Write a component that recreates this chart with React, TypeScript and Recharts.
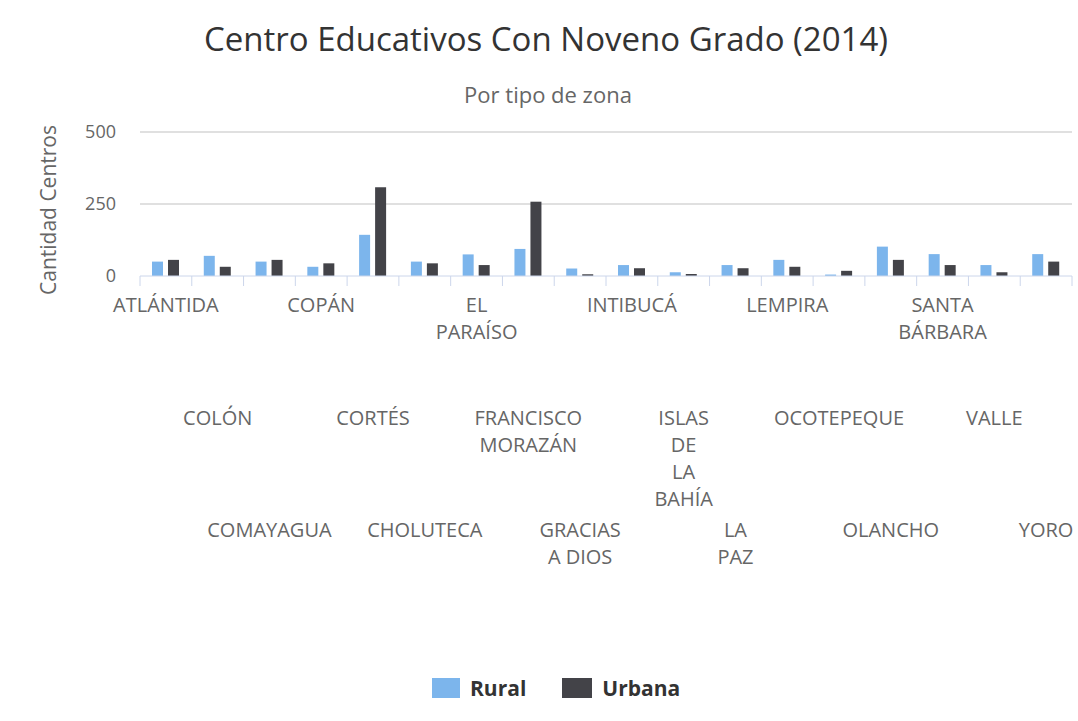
import React from 'react';
import { BarChart, Bar, XAxis, YAxis, CartesianGrid, Legend } from 'recharts';

const departamentos = [
  'ATLÁNTIDA', 'COLÓN', 'COMAYAGUA', 'COPÁN', 'CORTÉS', 'CHOLUTECA',
  'EL PARAÍSO', 'FRANCISCO MORAZÁN', 'GRACIAS A DIOS', 'INTIBUCÁ',
  'ISLAS DE LA BAHÍA', 'LA PAZ', 'LEMPIRA', 'OCOTEPEQUE', 'OLANCHO',
  'SANTA BÁRBARA', 'VALLE', 'YORO',
];
// how each label wraps under the axis
const etiquetas = [
  ['ATLÁNTIDA'], ['COLÓN'], ['COMAYAGUA'], ['COPÁN'], ['CORTÉS'], ['CHOLUTECA'],
  ['EL', 'PARAÍSO'], ['FRANCISCO', 'MORAZÁN'], ['GRACIAS', 'A DIOS'], ['INTIBUCÁ'],
  ['ISLAS', 'DE', 'LA', 'BAHÍA'], ['LA', 'PAZ'], ['LEMPIRA'], ['OCOTEPEQUE'], ['OLANCHO'],
  ['SANTA', 'BÁRBARA'], ['VALLE'], ['YORO'],
];
const rural = [50, 70, 50, 32, 143, 50, 75, 94, 26, 38, 13, 38, 56, 5, 102, 76, 38, 76];
const urbana = [56, 32, 56, 44, 308, 44, 38, 258, 6, 27, 7, 27, 32, 18, 56, 38, 13, 50];
const yTicks = [0, 250, 500];

const data = departamentos.map((d, i) => ({ name: d, rural: rural[i], urbana: urbana[i] }));

const W = 1078;
const H = 721;
const PLOT_LEFT = 140;
const PLOT_RIGHT = 1072;
const PLOT_TOP = 132;
const PLOT_BOTTOM = 276;
const BAND = (PLOT_RIGHT - PLOT_LEFT) / departamentos.length;
const FONT = '"Open Sans", sans-serif';

const XTick = (props: any) => {
  const { x, index } = props;
  const row = index % 3;
  const left = x - BAND / 2;
  const lines = etiquetas[index] || [];
  return (
    <g>
      <line x1={left} x2={left} y1={PLOT_BOTTOM} y2={PLOT_BOTTOM + 10} stroke="#ccd6eb" />
      {index === departamentos.length - 1 && (
        <line x1={left + BAND} x2={left + BAND} y1={PLOT_BOTTOM} y2={PLOT_BOTTOM + 10} stroke="#ccd6eb" />
      )}
      <text x={x} y={PLOT_BOTTOM + 36 + row * 112.5} textAnchor="middle" fill="#666" fontSize={20} fontFamily={FONT}>
        {lines.map((l, i) => (
          <tspan key={i} x={x} dy={i === 0 ? 0 : 27}>{l}</tspan>
        ))}
      </text>
    </g>
  );
};

const YLabel = () => (
  <text
    x={48}
    y={210}
    transform="rotate(-90 48 210)"
    textAnchor="middle"
    dominantBaseline="central"
    fill="#666"
    fontSize={21}
    fontFamily={FONT}
  >
    Cantidad Centros
  </text>
);

const LegendContent = () => (
  <div style={{ display: 'flex', alignItems: 'center', height: 30, paddingLeft: 432, fontFamily: FONT, fontWeight: 'bold', fontSize: 21, color: '#333' }}>
    <span style={{ width: 28, height: 20, background: '#7cb5ec', display: 'inline-block' }} />
    <span style={{ marginLeft: 10 }}>Rural</span>
    <span style={{ width: 30, height: 20, background: '#434348', display: 'inline-block', marginLeft: 36 }} />
    <span style={{ marginLeft: 10 }}>Urbana</span>
  </div>
);

export default function App() {
  return (
    <div style={{ position: 'absolute', left: 0, top: 0, width: W, height: H, background: '#fff' }}>
      <div style={{ position: 'absolute', top: 16, left: 0, width: W, textAlign: 'center', fontFamily: FONT, fontSize: 33, color: '#333', paddingLeft: 14, boxSizing: 'border-box' }}>
        Centro Educativos Con Noveno Grado (2014)
      </div>
      <div style={{ position: 'absolute', top: 79, left: 0, width: W, textAlign: 'center', fontFamily: FONT, fontSize: 22, color: '#666', paddingLeft: 18, boxSizing: 'border-box' }}>
        Por tipo de zona
      </div>
      <BarChart
        width={W}
        height={H}
        data={data}
        margin={{ top: PLOT_TOP, right: W - PLOT_RIGHT, bottom: 18, left: 0 }}
        barSize={11}
        barGap={5}
      >
        <CartesianGrid vertical={false} stroke="#e0e0e0" strokeWidth={2} horizontalValues={[250, 500]} />
        <XAxis
          dataKey="name"
          interval={0}
          tick={<XTick />}
          tickLine={false}
          axisLine={{ stroke: '#ccd6eb' }}
          height={H - PLOT_BOTTOM - 18 - 30}
        />
        <YAxis
          width={PLOT_LEFT}
          domain={[0, 500]}
          ticks={yTicks}
          tickLine={false}
          axisLine={false}
          tickMargin={18}
          tick={{ fill: '#666', fontSize: 18, fontFamily: FONT }}
          label={YLabel}
        />
        <Legend verticalAlign="bottom" content={<LegendContent />} />
        <Bar dataKey="rural" name="Rural" fill="#7cb5ec" isAnimationActive={false} />
        <Bar dataKey="urbana" name="Urbana" fill="#434348" isAnimationActive={false} />
      </BarChart>
    </div>
  );
}
